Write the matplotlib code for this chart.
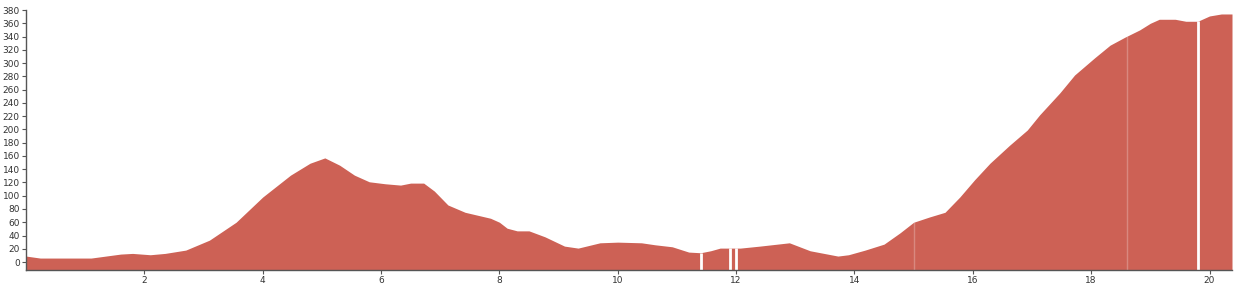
import matplotlib
matplotlib.use('Agg')
import matplotlib.pyplot as plt

# distance (km) and elevation (m)
dist = [0.0, 0.24, 0.6, 1.1, 1.6, 1.8, 2.1, 2.35, 2.7, 3.1, 3.55, 4.0, 4.47, 4.8, 5.05,
        5.3, 5.55, 5.8, 6.07, 6.33, 6.5, 6.72, 6.9, 7.13, 7.42, 7.85, 8.0, 8.13, 8.3,
        8.5, 8.77, 9.1, 9.33, 9.7, 10.0, 10.4, 10.63, 10.92, 11.2, 11.4, 11.57, 11.73,
        12.07, 12.4, 12.9, 13.25, 13.72, 13.9, 14.18, 14.5, 14.77, 15.0, 15.27, 15.53,
        15.78, 16.03, 16.29, 16.62, 16.92, 17.13, 17.47, 17.72, 18.06, 18.32, 18.57,
        18.82, 19.0, 19.15, 19.42, 19.6, 19.8, 20.0, 20.2, 20.38]
elev = [9, 6, 6, 6, 12, 13, 11, 13, 18, 33, 60, 98, 131, 149, 157,
        146, 131, 121, 118, 116, 119, 119, 107, 86, 75, 66, 60, 51, 47,
        47, 38, 24, 21, 29, 30, 29, 26, 23, 15, 14, 17, 21,
        21, 24, 29, 17, 9, 11, 18, 27, 44, 60, 68, 75,
        98, 124, 149, 176, 199, 222, 255, 282, 308, 327, 339,
        350, 360, 366, 366, 363, 363, 371, 374, 374]

# segment breaks shown as thin white lines
breaks = [11.4, 11.9, 12.0, 19.8]
faint_breaks = [15.0, 18.6]

fig = plt.figure(figsize=(12.36, 2.89), dpi=100)
ax = fig.add_axes([26 / 1236, 19 / 289, 1206 / 1236, 260 / 289])

ymin = -12
ax.fill_between(dist, elev, ymin, color='#cd6155', linewidth=0)

import numpy as np
for b in breaks:
    ax.vlines(b, ymin, np.interp(b, dist, elev), color='white', linewidth=2)
for b in faint_breaks:
    ax.vlines(b, ymin, np.interp(b, dist, elev), color='white', linewidth=1, alpha=0.25)

ax.set_xlim(0, 20.38)
ax.set_ylim(ymin, 380)
ax.set_yticks(range(0, 381, 20))
ax.set_xticks(range(2, 21, 2))

for s in ['top', 'right']:
    ax.spines[s].set_visible(False)
for s in ['left', 'bottom']:
    ax.spines[s].set_color('#555555')
    ax.spines[s].set_linewidth(1)
ax.tick_params(axis='both', length=3, width=0.8, color='#555555',
               labelsize=6.5, labelcolor='#333333', pad=1.5)

fig.savefig('out.png', dpi=100, facecolor='white')
